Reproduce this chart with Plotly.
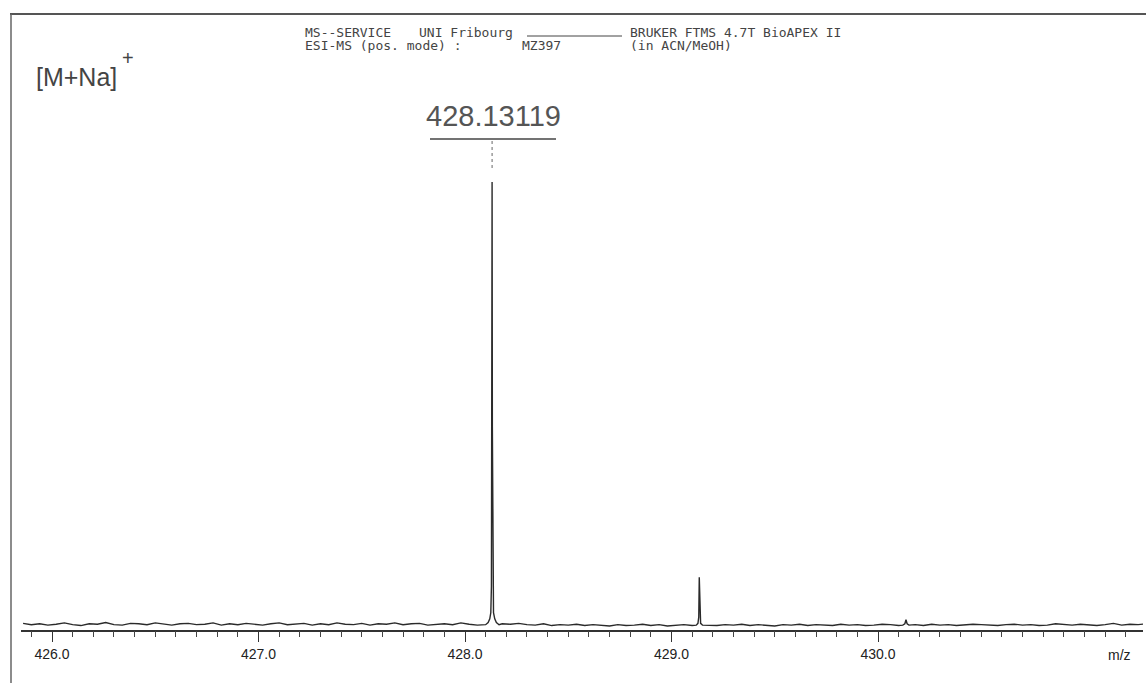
import numpy as np
import plotly.graph_objects as go

W, H = 1146, 683

# ---------------- data ----------------
# baseline noise (relative intensity, %), sampled on a regular m/z grid
noise_start = 425.86
noise_step = 0.04
noise_vals = [
    0.6, 0.3, 0.5, 0.2, 0.4, 0.7, 0.3, 0.1, 0.5, 0.4, 0.8, 0.3, 0.2, 0.6, 0.5, 0.3,
    0.7, 0.4, 0.2, 0.5, 0.6, 0.3, 0.4, 0.7, 0.2, 0.5, 0.3, 0.6, 0.4, 0.2, 0.5, 0.7,
    0.3, 0.4, 0.6, 0.2, 0.5, 0.3, 0.7, 0.4, 0.3, 0.6, 0.2, 0.5, 0.4, 0.7, 0.3, 0.5,
    0.6, 0.2, 0.4, 0.5, 0.3, 0.7, 0.4, 0.2, 0.6, 0.3, 0.5, 0.4, 0.6, 0.3, 0.2, 0.5,
    0.1, 0.3, 0.2, 0.4, 0.1, 0.3, 0.2, 0.0, 0.3, 0.1, 0.2, 0.4, 0.1, 0.3, 0.0, 0.2,
    0.3, 0.1, 0.4, 0.2, 0.1, 0.3, 0.2, 0.4, 0.1, 0.3, 0.2, 0.0, 0.3, 0.2, 0.4, 0.1,
    0.3, 0.2, 0.1, 0.4, 0.2, 0.3, 0.1, 0.2, 0.4, 0.3, 0.1, 0.2, 0.3, 0.1, 0.4, 0.2,
    0.3, 0.1, 0.2, 0.4, 0.3, 0.2, 0.1, 0.3, 0.4, 0.2, 0.3, 0.1, 0.2, 0.5, 0.3, 0.2,
    0.4, 0.3, 0.1, 0.3, 0.6, 0.2, 0.4, 0.3, 0.5,
]

# main [M+Na]+ peak
peak1_mz = [428.100, 428.112, 428.120, 428.125, 428.128, 428.1300, 428.1312, 428.1325,
            428.1345, 428.138, 428.144, 428.152, 428.165]
peak1_int = [0.3, 0.8, 1.6, 3.0, 9.0, 45.0, 100.0, 45.0, 9.0, 3.0, 1.6, 0.8, 0.3]

# 13C isotope peak
peak2_mz = [429.120, 429.128, 429.132, 429.1345, 429.137, 429.141, 429.150]
peak2_int = [0.2, 0.6, 2.0, 11.0, 2.0, 0.6, 0.2]

# small peak
peak3_mz = [430.120, 430.130, 430.1355, 430.141, 430.150]
peak3_int = [0.2, 0.5, 1.4, 0.5, 0.2]

peak_label = "428.13119"
x_ticks = [426.0, 427.0, 428.0, 429.0, 430.0]

# ---------------- build spectrum ----------------
noise_mz = noise_start + noise_step * np.arange(len(noise_vals))
windows = [(min(peak1_mz), max(peak1_mz)), (min(peak2_mz), max(peak2_mz)),
           (min(peak3_mz), max(peak3_mz))]
keep = np.ones(len(noise_mz), bool)
for lo, hi in windows:
    keep &= ~((noise_mz >= lo) & (noise_mz <= hi))
mz = np.concatenate([noise_mz[keep], peak1_mz, peak2_mz, peak3_mz])
inten = np.concatenate([np.array(noise_vals)[keep], peak1_int, peak2_int, peak3_int])
order = np.argsort(mz)
mz, inten = mz[order], inten[order]

# ---------------- geometry (pixel mapping) ----------------
px_per_unit = 206.5
x0_px = 52.0                 # pixel position of m/z 426.0
ax_l, ax_r = 21.0, 1143.0    # axis extent in pixels
xr = [426.0 + (ax_l - x0_px) / px_per_unit, 426.0 + (ax_r - x0_px) / px_per_unit]
base_px, top_px = 626.0, 182.0
pyu = (base_px - top_px) / 100.0
yr = [-(H - base_px) / pyu, base_px / pyu]


def px(x):
    return x / W


def py_(y):
    return 1 - y / H


fig = go.Figure()
fig.add_trace(go.Scatter(x=mz, y=inten, mode="lines",
                         line=dict(color="#2a2a2a", width=1.4),
                         hoverinfo="skip", showlegend=False))

axis_y = 630.5
fig.update_layout(
    width=W, height=H, autosize=False,
    margin=dict(l=0, r=0, t=0, b=0, pad=0),
    paper_bgcolor="white", plot_bgcolor="white",
    showlegend=False,
    xaxis=dict(range=xr, domain=[px(ax_l), px(ax_r)],
               showgrid=False, zeroline=False,
               anchor="free", position=py_(axis_y),
               showline=True, linecolor="#333", linewidth=1.5,
               ticks="outside", ticklen=11, tickwidth=1.2, tickcolor="#333",
               tickvals=x_ticks, ticktext=[f"{v:.1f}" for v in x_ticks],
               tickfont=dict(family="Liberation Sans, Arial", size=14, color="#222"),
               minor=dict(dtick=0.1, tick0=426.0, ticks="outside", ticklen=6,
                          tickwidth=1.2, tickcolor="#444", showgrid=False)),
    yaxis=dict(range=yr, visible=False, showgrid=False, zeroline=False),
)

# frame lines
fig.add_shape(type="line", xref="paper", yref="paper",
              x0=px(10), x1=1, y0=py_(14), y1=py_(14),
              line=dict(color="#555", width=2))
fig.add_shape(type="line", xref="paper", yref="paper",
              x0=px(11), x1=px(11), y0=py_(14), y1=0,
              line=dict(color="#666", width=1.5))

# header text
hdr_font = dict(family="DejaVu Sans Mono", size=13, color="#444")
headers = [
    ("MS--SERVICE", 303, 32),
    ("UNI Fribourg", 417, 32),
    ("BRUKER FTMS 4.7T BioAPEX II", 628, 32),
    ("ESI-MS (pos. mode) :", 303, 45),
    ("MZ397", 520, 45),
    ("(in ACN/MeOH)", 628, 45),
]
for txt, x, y in headers:
    fig.add_annotation(text=txt, xref="paper", yref="paper", x=px(x), y=py_(y),
                       xanchor="left", yanchor="middle", showarrow=False,
                       font=hdr_font)
fig.add_shape(type="line", xref="paper", yref="paper",
              x0=px(527), x1=px(622), y0=py_(36), y1=py_(36),
              line=dict(color="#444", width=1))

# [M+Na]+
fig.add_annotation(text="[M+Na]", xref="paper", yref="paper", x=px(34), y=py_(77),
                   xanchor="left", yanchor="middle", showarrow=False,
                   font=dict(family="Liberation Sans", size=25, color="#444"))
fig.add_annotation(text="+", xref="paper", yref="paper", x=px(128), y=py_(58),
                   xanchor="center", yanchor="middle", showarrow=False,
                   font=dict(family="Liberation Sans", size=20, color="#444"))

# peak label
peak_x = peak1_mz[int(np.argmax(peak1_int))]
fig.add_annotation(text=peak_label, xref="paper", x=px(493), y=py_(116), yref="paper",
                   xanchor="center", yanchor="middle", showarrow=False,
                   font=dict(family="Liberation Sans", size=29, color="#555"))
fig.add_shape(type="line", xref="paper", yref="paper",
              x0=px(430), x1=px(556), y0=py_(139), y1=py_(139),
              line=dict(color="#444", width=1.5))
fig.add_shape(type="line", x0=peak_x, x1=peak_x, yref="paper",
              y0=py_(141), y1=py_(170),
              line=dict(color="#666", width=1, dash="dot"))

# m/z label
fig.add_annotation(text="m/z", xref="paper", yref="paper", x=px(1119), y=py_(655),
                   xanchor="center", yanchor="middle", showarrow=False,
                   font=dict(family="Liberation Sans", size=14, color="#222"))

fig.write_html("out.html", config={"displayModeBar": False},
               post_script="document.body.style.margin='0';")
